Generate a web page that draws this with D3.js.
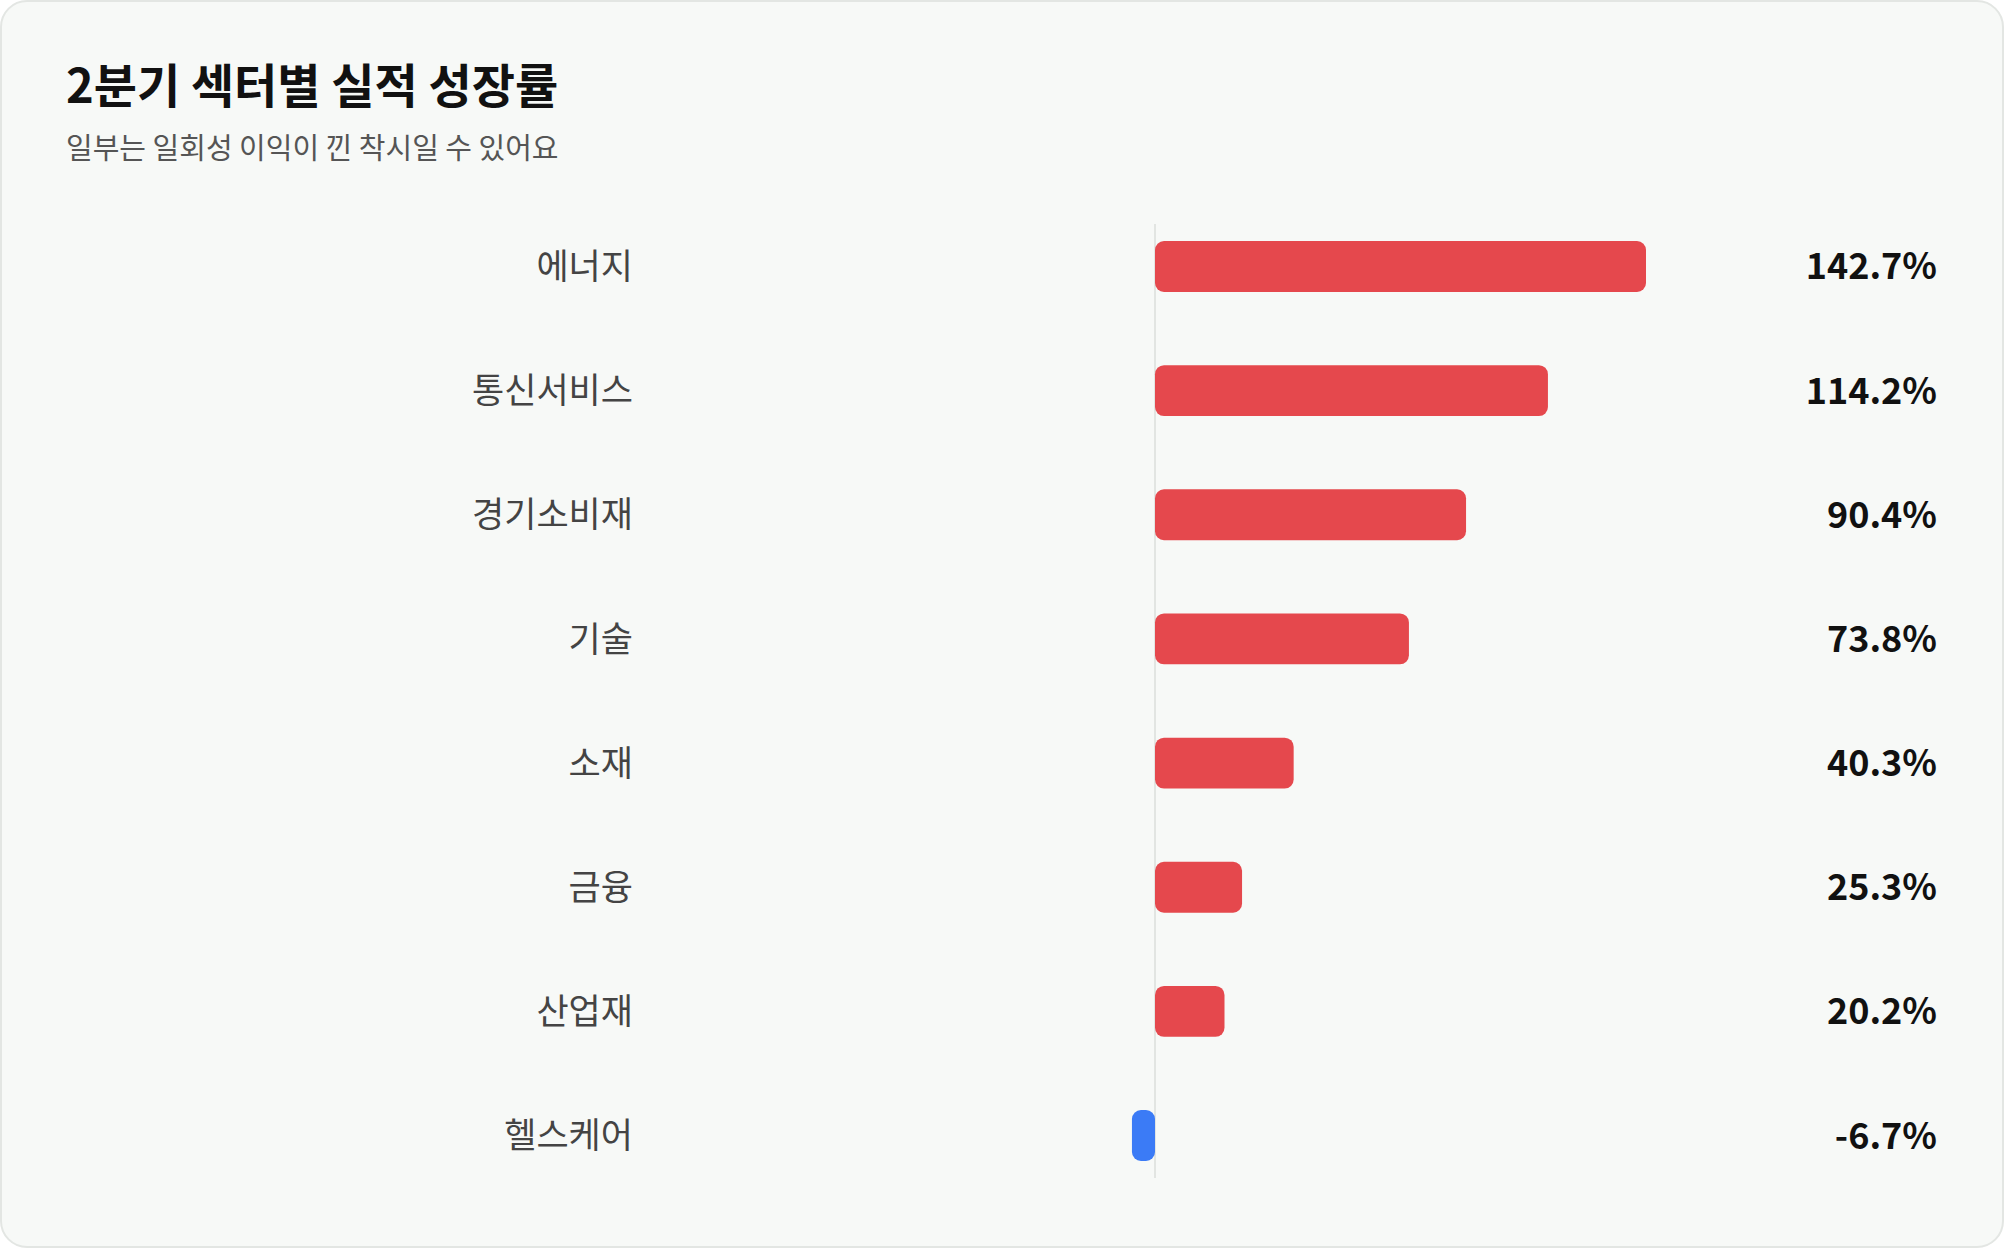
<!DOCTYPE html>
<html><head><meta charset="utf-8">
<script src="https://cdn.jsdelivr.net/npm/d3@7"></script>
<style>body{margin:0;background:#fff;font-family:"Noto Sans CJK KR","Noto Sans",sans-serif}</style>
</head><body><svg id="c" width="2004" height="1248"></svg>
<script>
const categories=["에너지","통신서비스","경기소비재","기술","소재","금융","산업재","헬스케어"];
const values=[142.7,114.2,90.4,73.8,40.3,25.3,20.2,-6.7];
const svg=d3.select("#c");
svg.append("rect").attr("x",1).attr("y",1).attr("width",2002).attr("height",1246).attr("rx",26)
  .attr("fill","#f7f9f7").attr("stroke","#e3e6e3").attr("stroke-width",2);
svg.append("text").attr("x",66).attr("y",103).text("2분기 섹터별 실적 성장률")
  .attr("font-size",47).attr("font-weight",700).attr("fill","#111");
svg.append("text").attr("x",66).attr("y",159).text("일부는 일회성 이익이 낀 착시일 수 있어요")
  .attr("font-size",29).attr("fill","#555");
const x=d3.scaleLinear().domain([0,142.7]).range([1155,1646]);
const y=d3.scaleBand().domain(categories).range([205,1197]).paddingInner(0.59).paddingOuter(0.29);
svg.append("line").attr("x1",x(0)).attr("x2",x(0)).attr("y1",224).attr("y2",1178).attr("stroke","#e2e5e2").attr("stroke-width",2);
const g=svg.selectAll("g.r").data(categories).join("g");
g.append("rect").attr("x",(d,i)=>Math.min(x(0),x(values[i]))).attr("y",d=>y(d))
  .attr("width",(d,i)=>Math.abs(x(values[i])-x(0))).attr("height",y.bandwidth()).attr("rx",9)
  .attr("fill",(d,i)=>values[i]<0?"#3b7bf6":"#e5484d");
g.append("text").attr("x",633).attr("y",d=>y(d)+y.bandwidth()/2).attr("dy","0.36em").attr("text-anchor","end")
  .attr("font-size",35).attr("fill","#444").text(d=>d);
g.append("text").attr("x",1937).attr("y",d=>y(d)+y.bandwidth()/2).attr("dy","0.36em").attr("text-anchor","end")
  .attr("font-size",36).attr("font-weight",600).attr("fill","#111").text((d,i)=>values[i].toFixed(1)+"%");
</script></body></html>
